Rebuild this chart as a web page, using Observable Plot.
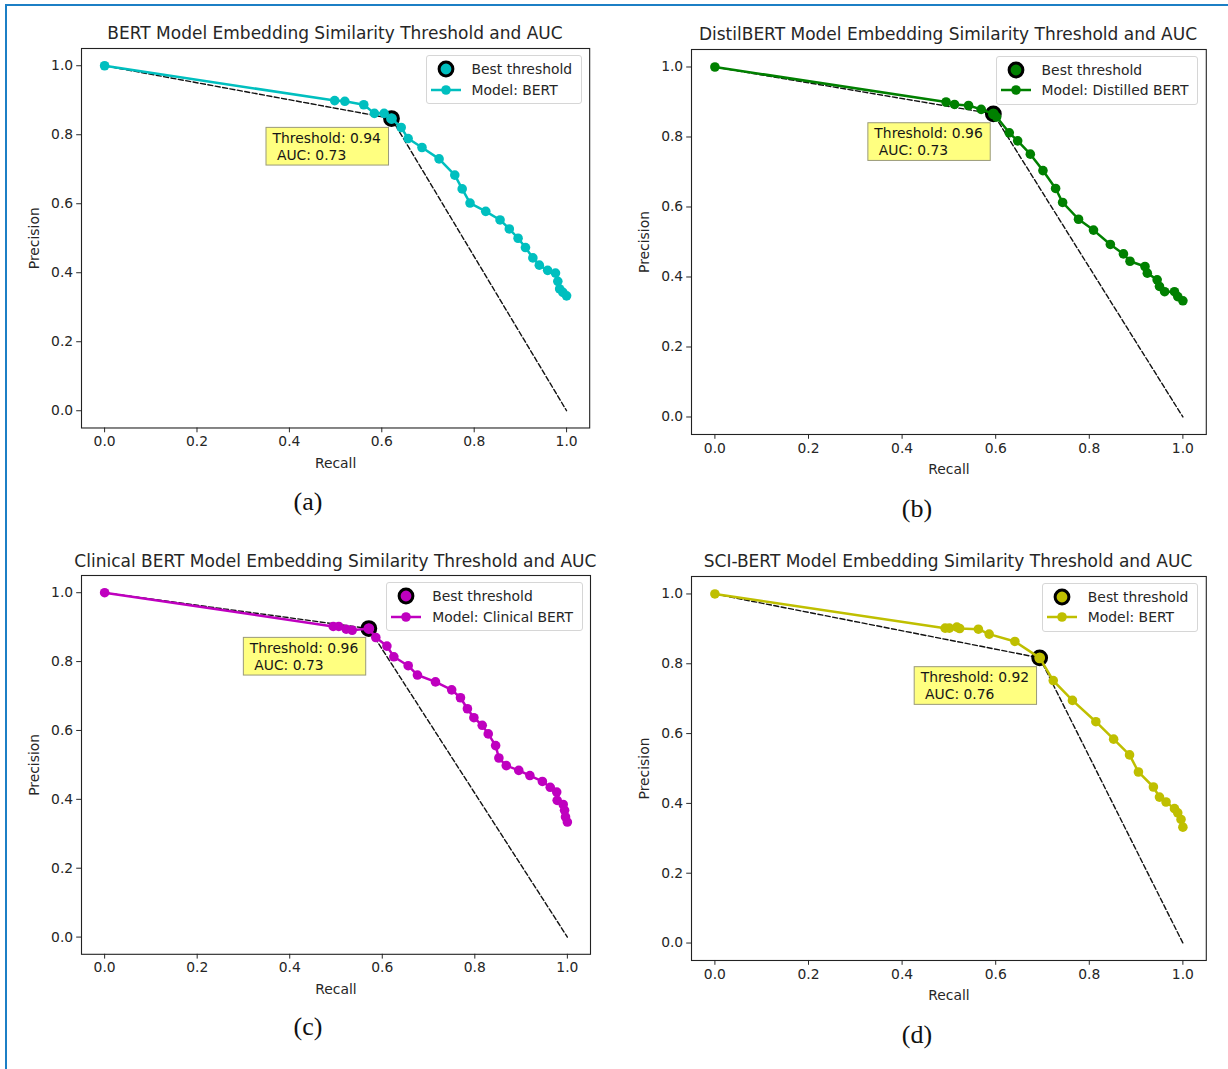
<!DOCTYPE html>
<html>
<head>
<meta charset="utf-8">
<script src="https://cdn.jsdelivr.net/npm/d3@7"></script>
<script src="https://cdn.jsdelivr.net/npm/@observablehq/plot@0.6"></script>
<style>
  body { margin: 0; background: #fff; }
  #page { position: relative; width: 1228px; height: 1069px; overflow: hidden; font-family: "DejaVu Sans", sans-serif; background: #fff; }
  .frame-border { position: absolute; left: 5px; top: 4px; width: 1400px; height: 1200px; border-top: 2.5px solid #1c7fc5; border-left: 2.5px solid #1c7fc5; }
  .title { position: absolute; font-size: 17px; line-height: 20px; color: #262626; white-space: nowrap; transform: translateX(-50%); }
  .tag { position: absolute; font-family: "Liberation Serif", "Times New Roman", serif; font-size: 26px; line-height: 30px; color: #111; transform: translate(-50%, -50%); }
  .legend { position: absolute; background: rgba(255,255,255,0.8); border: 1px solid #d6d6d6; border-radius: 3px; padding: 3px 9px 3px 4px; font-size: 13.9px; color: #262626; }
  .legend .row { display: flex; align-items: center; height: 20.5px; white-space: nowrap; }
  .legend svg { width: 30px; height: 18px; margin-right: 11px; flex: none; overflow: visible; }
  svg text { white-space: pre; }
</style>
</head>
<body>
<div id="page"><div class="frame-border"></div></div>
<script>
// ---------- data ----------
const tickValues = [0, 0.2, 0.4, 0.6, 0.8, 1.0];

const bertRecall = [0, 0.498, 0.520, 0.561, 0.584, 0.605, 0.621, 0.642, 0.657, 0.687, 0.724, 0.758, 0.774, 0.791, 0.825, 0.856, 0.876, 0.895, 0.911, 0.927, 0.941, 0.959, 0.976, 0.981, 0.985, 0.992, 1.0];
const bertPrecision = [1.0, 0.899, 0.897, 0.887, 0.862, 0.862, 0.847, 0.821, 0.789, 0.763, 0.730, 0.683, 0.643, 0.602, 0.578, 0.553, 0.527, 0.500, 0.473, 0.443, 0.422, 0.407, 0.399, 0.375, 0.353, 0.343, 0.333];

const distilRecall = [0, 0.494, 0.512, 0.542, 0.569, 0.595, 0.602, 0.629, 0.647, 0.674, 0.701, 0.728, 0.743, 0.777, 0.809, 0.845, 0.873, 0.887, 0.919, 0.924, 0.945, 0.950, 0.961, 0.982, 0.989, 1.0];
const distilPrecision = [1.0, 0.900, 0.893, 0.890, 0.879, 0.866, 0.857, 0.812, 0.789, 0.751, 0.704, 0.653, 0.613, 0.565, 0.534, 0.493, 0.466, 0.445, 0.430, 0.411, 0.392, 0.373, 0.358, 0.358, 0.344, 0.332];

const clinicalRecall = [0, 0.494, 0.506, 0.522, 0.535, 0.571, 0.586, 0.610, 0.625, 0.656, 0.676, 0.715, 0.750, 0.769, 0.784, 0.798, 0.816, 0.829, 0.845, 0.852, 0.868, 0.895, 0.919, 0.946, 0.963, 0.977, 0.978, 0.991, 0.994, 0.996, 1.0];
const clinicalPrecision = [1.0, 0.902, 0.902, 0.894, 0.891, 0.896, 0.870, 0.845, 0.814, 0.788, 0.761, 0.741, 0.718, 0.695, 0.663, 0.637, 0.615, 0.590, 0.556, 0.520, 0.498, 0.484, 0.469, 0.452, 0.435, 0.421, 0.397, 0.385, 0.368, 0.349, 0.334];

const sciRecall = [0, 0.492, 0.501, 0.517, 0.523, 0.563, 0.586, 0.641, 0.694, 0.723, 0.764, 0.814, 0.852, 0.886, 0.905, 0.937, 0.950, 0.964, 0.982, 0.989, 0.996, 1.0];
const sciPrecision = [1.0, 0.902, 0.902, 0.905, 0.901, 0.899, 0.885, 0.864, 0.817, 0.752, 0.695, 0.634, 0.584, 0.539, 0.490, 0.447, 0.418, 0.404, 0.385, 0.373, 0.354, 0.332];

const bestRecall = [0.621, 0.595, 0.571, 0.694];
const bestPrecision = [0.847, 0.866, 0.896, 0.817];
const bestThreshold = [0.94, 0.96, 0.96, 0.92];
const aucValues = [0.73, 0.73, 0.73, 0.76];

const titles = [
  "BERT Model Embedding Similarity Threshold and AUC",
  "DistilBERT Model Embedding Similarity Threshold and AUC",
  "Clinical BERT Model Embedding Similarity Threshold and AUC",
  "SCI-BERT Model Embedding Similarity Threshold and AUC"
];
const modelNames = ["BERT", "Distilled BERT", "Clinical BERT", "BERT"];
const colors = ["#00bfbf", "#008000", "#bf00bf", "#bfbf00"];
const tags = ["(a)", "(b)", "(c)", "(d)"];
const recallSeries = [bertRecall, distilRecall, clinicalRecall, sciRecall];
const precisionSeries = [bertPrecision, distilPrecision, clinicalPrecision, sciPrecision];

// ---------- layout ----------
const layout = [
  {fx: 80.9, fy: 47.75, fw: 508.2, fh: 379.5, tx: 308, ty: 502},
  {fx: 690.6, fy: 48.5, fw: 514.8, fh: 385, tx: 917, ty: 509},
  {fx: 80.9, fy: 575.1, fw: 509, fh: 378.8, tx: 308, ty: 1027},
  {fx: 690.6, fy: 575.5, fw: 514.8, fh: 384, tx: 917, ty: 1035}
];
const M = {l: 75, r: 12, t: 12, b: 55};
const page = document.getElementById("page");
const svgNS = "http://www.w3.org/2000/svg";

titles.forEach((title, i) => {
  const L = layout[i];
  const color = colors[i];
  const rows = recallSeries[i].map((r, j) => ({recall: r, precision: precisionSeries[i][j]}));
  const best = {
    recall: bestRecall[i],
    precision: bestPrecision[i],
    label: `Threshold: ${bestThreshold[i].toFixed(2)}\n AUC: ${aucValues[i].toFixed(2)}`
  };
  const diag = [{recall: 0, precision: 1}, best, {recall: 1, precision: 0}];

  const svg = Plot.plot({
    width: L.fw + M.l + M.r,
    height: L.fh + M.t + M.b,
    marginLeft: M.l, marginRight: M.r, marginTop: M.t, marginBottom: M.b,
    style: {fontFamily: "DejaVu Sans", fontSize: "13.9px", color: "#262626", background: "transparent", overflow: "visible"},
    x: {domain: [-0.05, 1.05]},
    y: {domain: [-0.05, 1.05]},
    marks: [
      Plot.axisX({ticks: tickValues, tickFormat: d3.format(".1f"), tickSize: 4.8, tickPadding: 3.5,
        label: "Recall", labelAnchor: "center", labelOffset: 40, labelArrow: "none"}),
      Plot.axisY({ticks: tickValues, tickFormat: d3.format(".1f"), tickSize: 4.8, tickPadding: 3.5,
        label: "Precision", labelAnchor: "center", labelOffset: 52, labelArrow: "none"}),
      Plot.line(diag, {x: "recall", y: "precision", stroke: "#111", strokeWidth: 1.4, strokeDasharray: "5,2.5"}),
      Plot.dot([best], {x: "recall", y: "precision", r: 6.9, fill: color, stroke: "#000", strokeWidth: 3}),
      Plot.line(rows, {x: "recall", y: "precision", stroke: color, strokeWidth: 2.5}),
      Plot.dot(rows, {x: "recall", y: "precision", r: 4.8, fill: color}),
      Plot.text([best], {x: "recall", y: "precision", text: "label", textAnchor: "start", lineAnchor: "top",
        lineHeight: 1.2, dx: -119, dy: 12.5, fontSize: 13.9, fill: "#161616"}),
      Plot.frame({stroke: "#222", strokeWidth: 1.1})
    ]
  });
  svg.style.position = "absolute";
  svg.style.left = (L.fx - M.l) + "px";
  svg.style.top = (L.fy - M.t) + "px";
  page.appendChild(svg);

  // yellow annotation box behind the text
  const t = svg.querySelector('g[aria-label="text"] text');
  if (t) {
    const bb = t.getBBox();
    const rect = document.createElementNS(svgNS, "rect");
    rect.setAttribute("x", bb.x - 5.5);
    rect.setAttribute("y", bb.y - 2.5);
    rect.setAttribute("width", bb.width + 13);
    rect.setAttribute("height", bb.height + 5);
    rect.setAttribute("fill", "#ffff80");
    rect.setAttribute("stroke", "#9a9a7a");
    rect.setAttribute("stroke-width", "1");
    if (t.getAttribute("transform")) rect.setAttribute("transform", t.getAttribute("transform"));
    t.parentNode.insertBefore(rect, t);
  }

  // title
  const td = document.createElement("div");
  td.className = "title";
  td.textContent = title;
  td.style.left = (L.fx + L.fw / 2) + "px";
  td.style.top = (L.fy - 14.3 - 10) + "px";
  page.appendChild(td);

  // panel tag
  const tg = document.createElement("div");
  tg.className = "tag";
  tg.textContent = tags[i];
  tg.style.left = L.tx + "px";
  tg.style.top = L.ty + "px";
  page.appendChild(tg);

  // legend
  const lg = document.createElement("div");
  lg.className = "legend";
  lg.style.right = (1228 - (L.fx + L.fw) + 7) + "px";
  lg.style.top = (L.fy + 7) + "px";
  lg.innerHTML =
    `<div class="row"><svg viewBox="0 0 30 18"><circle cx="15" cy="9" r="6.9" fill="${color}" stroke="#000" stroke-width="3"/></svg><span>Best threshold</span></div>` +
    `<div class="row"><svg viewBox="0 0 30 18"><line x1="0" y1="9" x2="30" y2="9" stroke="${color}" stroke-width="2.5"/><circle cx="15" cy="9" r="4.8" fill="${color}"/></svg><span>Model: ${modelNames[i]}</span></div>`;
  page.appendChild(lg);
});
</script>
</body>
</html>
